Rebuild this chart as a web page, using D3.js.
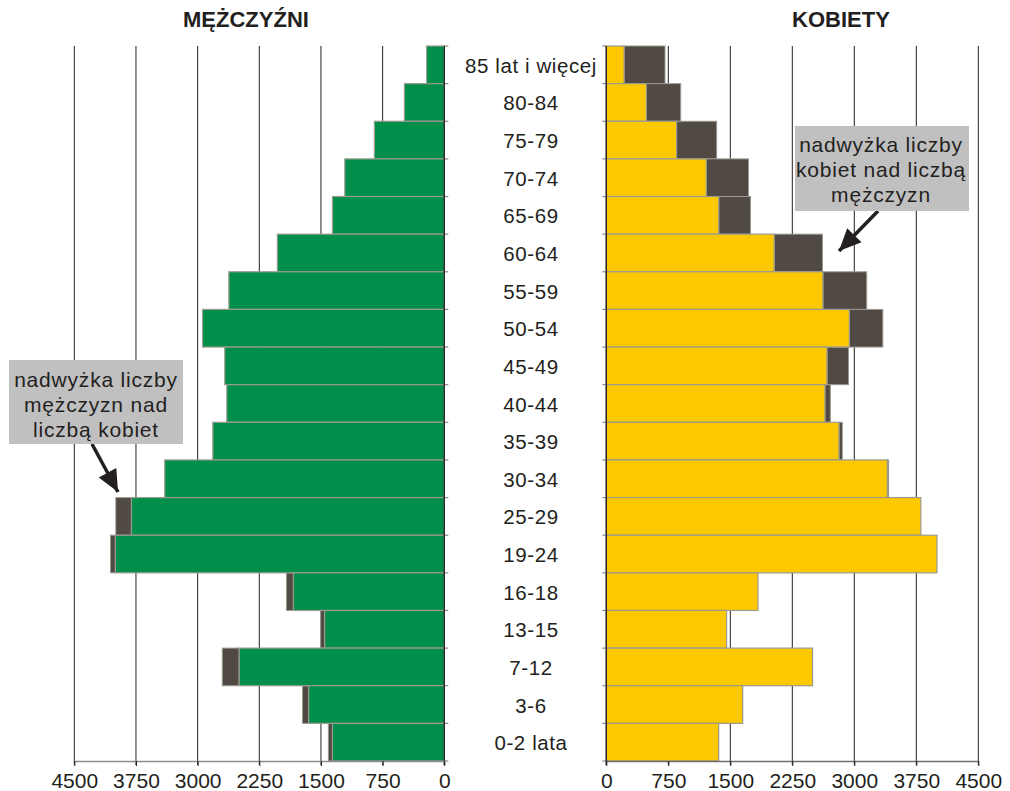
<!DOCTYPE html>
<html>
<head>
<meta charset="utf-8">
<script src="https://cdn.jsdelivr.net/npm/d3@7"></script>
<style>
  html, body { margin: 0; padding: 0; background: #ffffff; }
  svg { display: block; font-family: "Liberation Sans", Arial, sans-serif; }
</style>
</head>
<body>
<svg id="chart" width="1010" height="791"></svg>
<script>
// ---- data ----
const ageGroups = ["85 lat i więcej", "80-84", "75-79", "70-74", "65-69", "60-64", "55-59",
  "50-54", "45-49", "40-44", "35-39", "30-34", "25-29", "19-24", "16-18", "13-15",
  "7-12", "3-6", "0-2 lata"];
const men   = [215, 485, 850, 1210, 1360, 2030, 2620, 2940, 2670, 2645, 2815, 3400, 3995, 4060, 1920, 1505, 2700, 1725, 1410];
const women = [710, 900, 1335, 1720, 1745, 2615, 3150, 3345, 2930, 2710, 2855, 3415, 3805, 4000, 1835, 1455, 2495, 1650, 1360];
const tickValues = [0, 750, 1500, 2250, 3000, 3750, 4500];
const panelTitles = ["MĘŻCZYŹNI", "KOBIETY"];
const noteMen = ["nadwyżka liczby", "mężczyzn nad", "liczbą kobiet"];
const noteWomen = ["nadwyżka liczby", "kobiet nad liczbą", "mężczyzn"];

// ---- styles ----
const GREEN = "#008f4a", YELLOW = "#fcc900", DARK = "#514a44";
const BORDER = "#9a9a90", INK = "#231f20", BOX = "#c0c0c0";

const svg = d3.select("#chart");
const rows = ageGroups.map((g, i) => ({ g, m: men[i], w: women[i], lo: Math.min(men[i], women[i]) }));

const yTop = 46, yBottom = 761;
const y = d3.scaleBand().domain(ageGroups).range([yTop, yBottom]).padding(0);
const xL = d3.scaleLinear().domain([0, 4500]).range([444.3, 74.3]);
const xR = d3.scaleLinear().domain([0, 4500]).range([606.3, 978.3]);

// gridlines
function grid(x) {
  svg.append("g").selectAll("line").data(tickValues).join("line")
    .attr("x1", d => x(d)).attr("x2", d => x(d))
    .attr("y1", yTop).attr("y2", yBottom + 4)
    .attr("stroke", INK).attr("stroke-width", 1);
}
grid(xL); grid(xR);

// bars: men panel
const gm = svg.append("g");
gm.selectAll("rect.ex").data(rows.filter(d => d.m > d.w)).join("rect")
  .attr("class", "ex")
  .attr("x", d => xL(d.m)).attr("width", d => xL(d.lo) - xL(d.m))
  .attr("y", d => y(d.g)).attr("height", y.bandwidth())
  .attr("fill", DARK).attr("stroke", BORDER).attr("stroke-width", 1);
gm.selectAll("rect.base").data(rows).join("rect")
  .attr("class", "base")
  .attr("x", d => xL(d.lo)).attr("width", d => xL(0) - xL(d.lo))
  .attr("y", d => y(d.g)).attr("height", y.bandwidth())
  .attr("fill", GREEN).attr("stroke", BORDER).attr("stroke-width", 1.2);

// bars: women panel
const gw = svg.append("g");
gw.selectAll("rect.ex").data(rows.filter(d => d.w > d.m)).join("rect")
  .attr("class", "ex")
  .attr("x", d => xR(d.lo)).attr("width", d => xR(d.w) - xR(d.lo))
  .attr("y", d => y(d.g)).attr("height", y.bandwidth())
  .attr("fill", DARK).attr("stroke", BORDER).attr("stroke-width", 1);
gw.selectAll("rect.base").data(rows).join("rect")
  .attr("class", "base")
  .attr("x", xR(0)).attr("width", d => xR(d.lo) - xR(0))
  .attr("y", d => y(d.g)).attr("height", y.bandwidth())
  .attr("fill", YELLOW).attr("stroke", BORDER).attr("stroke-width", 1.2);

// vertical zero axes with row ticks
const bounds = ageGroups.map(g => y(g)).concat([yBottom]);
svg.append("g").selectAll("line").data(bounds).join("line")
  .attr("x1", xL(0)).attr("x2", xL(0) + 4).attr("y1", d => d).attr("y2", d => d)
  .attr("stroke", "#8a8a84").attr("stroke-width", 1.2);
svg.append("g").selectAll("line").data(bounds).join("line")
  .attr("x1", xR(0) - 4).attr("x2", xR(0)).attr("y1", d => d).attr("y2", d => d)
  .attr("stroke", "#8a8a84").attr("stroke-width", 1.2);
svg.append("line").attr("x1", xL(0)).attr("x2", xL(0)).attr("y1", yTop).attr("y2", yBottom + 4)
  .attr("stroke", INK).attr("stroke-width", 1.3);
svg.append("line").attr("x1", xR(0)).attr("x2", xR(0)).attr("y1", yTop).attr("y2", yBottom + 4)
  .attr("stroke", INK).attr("stroke-width", 1.3);

// bottom axes
function bottomAxis(x, lineColor) {
  const g = svg.append("g").attr("transform", `translate(0,${yBottom})`)
    .call(d3.axisBottom(x).tickValues(tickValues).tickSize(5).tickSizeOuter(0).tickFormat(d3.format("d")));
  g.select(".domain").attr("stroke", lineColor).attr("stroke-width", 1.5);
  g.selectAll(".tick line").attr("stroke", INK);
  g.selectAll(".tick text")
    .attr("y", 27).attr("dy", 0)
    .attr("fill", INK)
    .style("font-size", "21px")
    .style("font-family", '"Liberation Sans", Arial, sans-serif');
}
bottomAxis(xL, "#8c8c8c");
bottomAxis(xR, "#6e6e6e");

// category labels
svg.append("g").selectAll("text").data(ageGroups).join("text")
  .attr("x", 531).attr("y", d => y(d) + y.bandwidth() / 2 + 8)
  .attr("text-anchor", "middle")
  .attr("fill", INK)
  .style("font-size", "20.5px")
  .style("letter-spacing", "0.6px")
  .text(d => d);

// titles
svg.append("text").attr("x", 246).attr("y", 27).attr("text-anchor", "middle")
  .attr("fill", INK).style("font-size", "22px").style("font-weight", "bold").text(panelTitles[0]);
svg.append("text").attr("x", 841).attr("y", 27).attr("text-anchor", "middle")
  .attr("fill", INK).style("font-size", "22px").style("font-weight", "bold").text(panelTitles[1]);

// annotations
function note(x0, y0, w, h, cx, lines, firstBase, ax1, ay1, ax2, ay2) {
  svg.append("line").attr("x1", ax1).attr("y1", ay1).attr("x2", ax2).attr("y2", ay2)
    .attr("stroke", INK).attr("stroke-width", 3.5);
  const ang = Math.atan2(ay2 - ay1, ax2 - ax1);
  const L = 22, W = 10;
  const bx = ax2 - L * Math.cos(ang), by = ay2 - L * Math.sin(ang);
  const px = -Math.sin(ang) * W, py = Math.cos(ang) * W;
  svg.append("path")
    .attr("d", `M${ax2},${ay2} L${bx + px},${by + py} L${bx - px},${by - py} Z`)
    .attr("fill", INK);
  svg.append("rect").attr("x", x0).attr("y", y0).attr("width", w).attr("height", h).attr("fill", BOX);
  svg.append("g").selectAll("text").data(lines).join("text")
    .attr("x", cx).attr("y", (d, i) => firstBase + i * 24.8)
    .attr("text-anchor", "middle").attr("fill", INK)
    .style("font-size", "21px").style("letter-spacing", "0.8px")
    .text(d => d);
}
note(795, 126, 174, 85, 881, noteWomen, 152, 878, 211, 839, 251);
note(9, 360, 174, 84, 96, noteMen, 387, 92, 444, 118, 492);
</script>
</body>
</html>
